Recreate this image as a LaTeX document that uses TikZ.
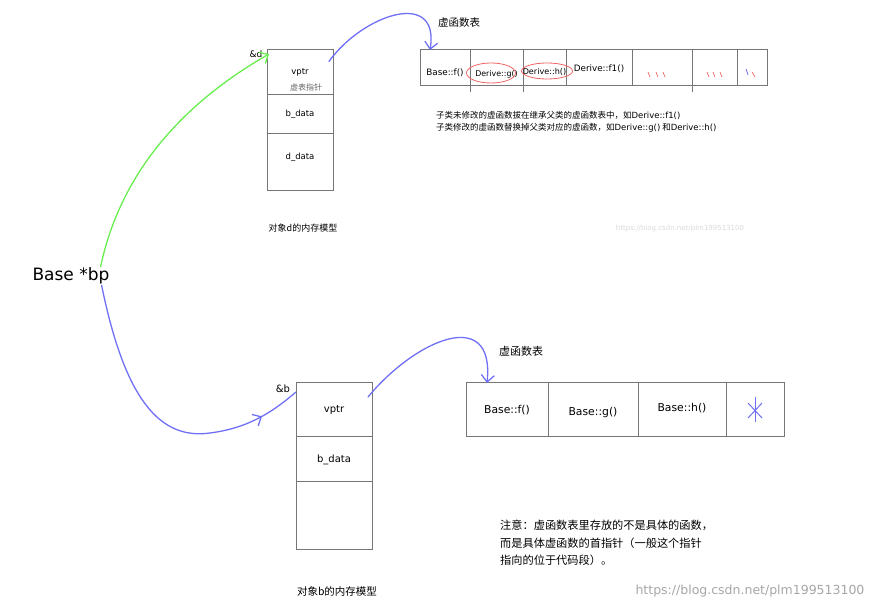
\documentclass[tikz,border=0pt]{standalone}
\usepackage{fontspec}
\setmainfont{DejaVu Sans}
\newfontfamily\cjk{Noto Sans CJK SC}
\usepackage{xcolor}
\usepackage{tikz}
\usetikzlibrary{arrows.meta}
\usetikzlibrary{positioning}
\usetikzlibrary{decorations.markings}

\definecolor{penblue}{RGB}{112,112,245}
\definecolor{pengreen}{RGB}{105,238,80}
\definecolor{penred}{RGB}{238,100,100}
\definecolor{boxgray}{RGB}{118,118,118}

\newcommand{\celltext}[2][0pt]{\makebox[0pt]{\raisebox{\dimexpr#1-3.5pt}[0pt][0pt]{#2}}}

\begin{document}
\begin{tikzpicture}[
  x=1pt, y=-1pt,
  every node/.style={inner sep=1pt},
  cell/.style={draw=boxgray, line width=1pt, inner sep=0pt, outer sep=0pt},
  fsize/.style={font=\fontsize{#1}{#1}\selectfont},
  csize/.style={font=\cjk\fontsize{#1}{#1}\selectfont},
  dbox/.style={cell, minimum width=66pt, fsize=8.5},
  bbox/.style={cell, minimum width=76pt, fsize=10},
  dcell/.style={cell, minimum height=36pt, fsize=8.8},
  bcell/.style={cell, minimum height=54pt, fsize=10.8},
  pen/.style={line width=1.3pt, line cap=round},
]
\tikzset{>={Straight Barb[length=7pt, width=13pt]}}

\useasboundingbox (0,0) rectangle (884,609);

%% pointer
\node[fsize=17] (bp) at (71,276) {Base *bp};

%% object d
\node[dbox, anchor=north west, minimum height=45pt] (dvptr) at (267,50) {vptr};
\node[csize=8, text=black!60] (dhint) at ([xshift=6pt,yshift=-14.5pt]dvptr.center) {虚表指针};
\node[dbox, below=0pt of dvptr, minimum height=39pt] (dbdata) {b\_data};
\node[dbox, below=0pt of dbdata, minimum height=57pt] (dddata) {};
\node[fsize=8.5] (ddtext) at ([yshift=-23pt]dddata.north) {d\_data};
\node[fsize=9] (dref) at (256,54) {\&d};
\node[csize=9] (dcap) at (303,228) {对象d的内存模型};

%% vtable of d
\node[csize=10.5] (dtitle) at (459,23) {虚函数表};
\node[dcell, anchor=north west, minimum width=50pt] (df) at (420,50) {\celltext[-4pt]{Base::f()}};
\node[dcell, right=0pt of df, minimum width=53pt, fsize=7.9] (dg) {\celltext[-5pt]{Derive::g()}};
\node[dcell, right=0pt of dg, minimum width=43pt, fsize=8.1] (dh) {\celltext[-3pt]{Derive::h()}};
\node[dcell, right=0pt of dh, minimum width=66pt] (df1) {\celltext{Derive::f1()}};
\node[dcell, right=0pt of df1, minimum width=60pt] (dx1) {};
\node[dcell, right=0pt of dx1, minimum width=45pt] (dx2) {};
\node[dcell, right=0pt of dx2, minimum width=30pt] (dx3) {};
\foreach \c in {dg, dh, dx2}
  \draw[boxgray, line width=0.8pt] (\c.south west) -- ++(0,6);
\draw[penred, line width=0.8pt] ([xshift=-5.5pt,yshift=-5pt]dg.center) ellipse (24.5 and 10);
\draw[penred, line width=0.8pt] ([xshift=2.5pt,yshift=-3pt]dh.center) ellipse (25.5 and 8);
\foreach \x in {648,656,663,707,713,720}
  \draw[penred, line width=0.7pt] (\x,72) -- ++(2,5);
\draw[penblue, line width=0.8pt] (746,69) -- ++(2,6);
\draw[penred, line width=0.7pt] (752,72) -- ++(3,5);

\node[csize=8.5, anchor=west] (dnote1) at (435,115)
  {子类未修改的虚函数拔在继承父类的虚函数表中，如{\rmfamily Derive::f1()}};
\node[csize=8.5, anchor=west] (dnote2) at (435,128)
  {子类修改的虚函数替换掉父类对应的虚函数，如{\rmfamily Derive::g()} 和{\rmfamily Derive::h()}};
\node[fsize=7, text=black!15] (markd) at (680,229) {https://blog.csdn.net/plm199513100};

%% object b
\node[bbox, anchor=north west, minimum height=54pt] (bvptr) at (296,383) {vptr};
\node[bbox, below=0pt of bvptr, minimum height=45pt] (bbdata) {b\_data};
\node[bbox, below=0pt of bbdata, minimum height=67pt] (bempty) {};
\node[fsize=10] (bref) at (283,389) {\&b};
\node[csize=10.5] (bcap) at (337,591) {对象b的内存模型};

%% vtable of b
\node[csize=11] (btitle) at (521,351) {虚函数表};
\node[bcell, anchor=north west, minimum width=82pt] (bf) at (466,383) {\celltext{Base::f()}};
\node[bcell, right=0pt of bf, minimum width=90pt] (bg) {\celltext[-2pt]{Base::g()}};
\node[bcell, right=0pt of bg, minimum width=88pt] (bh) {\celltext[2pt]{Base::h()}};
\node[bcell, right=0pt of bh, minimum width=58pt] (bend) {};
\draw[penblue, line width=1pt] ([yshift=13pt]bend.center) -- ([yshift=-12pt]bend.center);
\draw[penblue, line width=1pt] ([xshift=-7pt,yshift=7pt]bend.center) -- ([xshift=7pt,yshift=-8pt]bend.center);
\draw[penblue, line width=1pt] ([xshift=7pt,yshift=7pt]bend.center) -- ([xshift=-7pt,yshift=-8pt]bend.center);

\node[anchor=north west, align=left, font=\cjk\fontsize{11.2}{17.5}\selectfont]
  (bnote) at (499,519) {注意：虚函数表里存放的不是具体的函数，\\而是具体虚函数的首指针（一般这个指针\\指向的位于代码段）。};
\node[fsize=12.5, text=black!35] (mark) at (750,591) {https://blog.csdn.net/plm199513100};

%% connectors
\draw[pengreen, pen, ->] ([xshift=-10pt]bp.north east)
  .. controls (120,175) and (180,105) .. ([xshift=2pt,yshift=-4pt]dvptr.north west);
\draw[penblue, pen, decoration={markings, mark=at position 0.86 with {\arrow{>}}},
  postaction={decorate}] ([xshift=-9pt]bp.south east)
  .. controls (125,400) and (160,440) .. (210,433)
  .. controls (250,428) and (275,410) .. ([yshift=-9pt]bvptr.north west);
\draw[penblue, pen, ->] ([xshift=-4pt,yshift=11pt]dvptr.east)
  .. controls (362,15) and (440,-12) .. ([xshift=10pt]df.north west);
\draw[penblue, pen, ->] ([xshift=-4pt,yshift=13pt]bvptr.east)
  .. controls (415,340) and (495,305) .. ([xshift=21pt]bf.north west);

\end{tikzpicture}
\end{document}
